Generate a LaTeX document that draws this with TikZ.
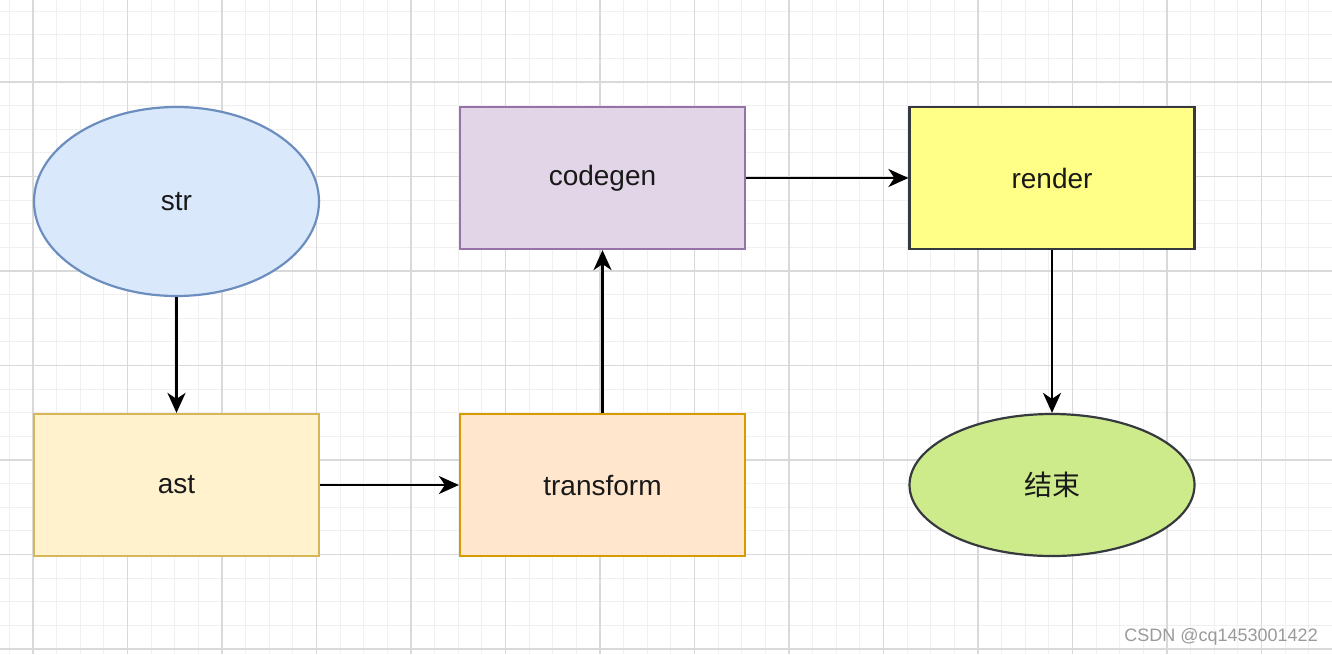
\documentclass[tikz,border=0pt]{standalone}
\usepackage{fontspec}
\setmainfont{Liberation Sans}
\newfontfamily\cjk{Noto Sans CJK SC}
\usetikzlibrary{arrows.meta,shapes.geometric}
\definecolor{gridminor}{HTML}{F0F0F0}
\definecolor{gridmajor}{HTML}{D9D9D9}
\definecolor{blueF}{HTML}{DAE8FC}\definecolor{blueS}{HTML}{6C8EBF}
\definecolor{yelF}{HTML}{FFF2CC}\definecolor{yelS}{HTML}{D6B656}
\definecolor{orF}{HTML}{FFE6CC}\definecolor{orS}{HTML}{D79B00}
\definecolor{purF}{HTML}{E1D5E7}\definecolor{purS}{HTML}{9673A6}
\definecolor{lyF}{HTML}{FFFF88}\definecolor{darkS}{HTML}{36393D}
\definecolor{grF}{HTML}{CDEB8B}
\definecolor{wmark}{HTML}{9A9A9A}
\tikzset{
  box/.style={draw, line width=2.2pt, minimum width=285pt, minimum height=142pt, inner sep=0pt, font=\fontsize{28}{32}\selectfont, text=black!90},
  oval/.style={box, ellipse},
  conn/.style={line width=2.6pt, -{Stealth[length=20pt,width=18pt,inset=6pt]}},
}
\begin{document}
\begin{tikzpicture}[x=1pt,y=-1pt]
\useasboundingbox (0,0) rectangle (1332,654);
\fill[white] (0,0) rectangle (1332,654);
% minor grid
\foreach \i in {0,...,56} {
  \pgfmathsetmacro{\xx}{9.375+23.625*\i}
  \draw[gridminor, line width=1pt] (\xx,0) -- (\xx,654);
}
\foreach \i in {0,...,27} {
  \pgfmathsetmacro{\yy}{11.125+23.625*\i}
  \draw[gridminor, line width=1pt] (0,\yy) -- (1332,\yy);
}
% major grid
\foreach \i in {0,...,13} {
  \pgfmathsetmacro{\xx}{33+94.5*\i}
  \draw[gridmajor, line width=1.2pt] (\xx,0) -- (\xx,654);
}
\foreach \i in {0,...,6} {
  \pgfmathsetmacro{\yy}{82+94.5*\i}
  \draw[gridmajor, line width=1.2pt] (0,\yy) -- (1332,\yy);
}
% nodes
\node[oval, fill=blueF, draw=blueS, minimum height=189pt] (str) at (176.5,201.5) {str};
\node[box, fill=yelF, draw=yelS] (ast) at (176.5,485) {ast};
\node[box, fill=orF, draw=orS] (transform) at (602.5,485) {transform};
\node[box, fill=purF, draw=purS] (codegen) at (602.5,178) {codegen};
\node[box, fill=lyF, draw=darkS] (render) at (1052,178) {render};
\node[oval, fill=grF, draw=darkS] (end) at (1052,485) {\cjk 结束};
% connectors
\draw[conn] (str.south) -- (ast.north);
\draw[conn] (ast.east) -- (transform.west);
\draw[conn] (transform.north) -- (codegen.south);
\draw[conn] (codegen.east) -- (render.west);
\draw[conn] (render.south) -- (end.north);
% watermark
\node[anchor=base east, text=wmark, font=\fontsize{18}{20}\selectfont, inner sep=0pt] (wm) at (1318,641) {CSDN @cq1453001422};
\end{tikzpicture}
\end{document}
